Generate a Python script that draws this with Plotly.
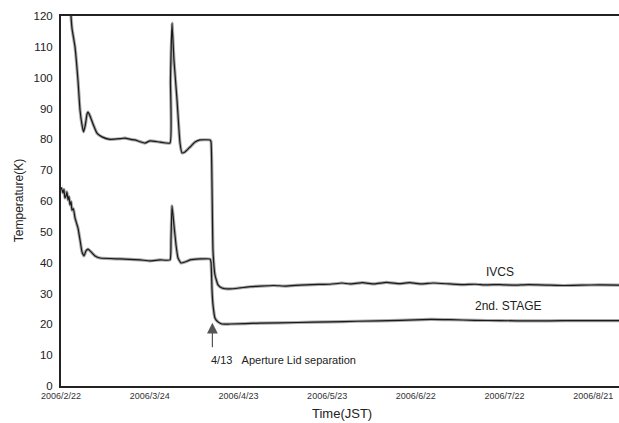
import pandas as pd
import plotly.graph_objects as go

START = "2006-02-22"

# IVCS: days since 2006-02-22 and temperature (K)
ivcs_days = [2.5, 3.38, 3.72, 4.73, 5.75, 6.43, 7.1, 7.61, 8.2, 8.8, 9.13, 9.81, 10.82, 12.17,
             13.87, 16.57, 19.95, 21.64, 23.5, 25.03, 28.41, 30.1, 33.48, 36.86, 37.03, 37.54,
             38.2, 39.23, 40.24, 40.92, 41.93, 43.63, 45.32, 47.0, 50.39, 50.73, 51.07, 51.4,
             52.08, 53.1, 54.45, 57.15, 60.5, 64, 67.3, 72, 76, 80.8, 85, 91, 95, 97.7, 102,
             106, 110, 114.6, 118, 122, 126, 131.6, 136, 140, 144, 148.5, 153, 158, 165.4,
             170, 176, 182, 188.7]
ivcs_temp = [135, 120, 116, 110, 99, 89.5, 84.7, 82.4, 84.5, 88.2, 88.8, 87.6, 85, 82,
             80.8, 80.0, 80.2, 80.4, 80.0, 79.8, 78.8, 79.5, 79.1, 78.8, 99, 117.7,
             105.7, 92.8, 78.8, 75.6, 75.9, 77.5, 79.1, 79.8, 79.8, 79.3, 65, 44,
             36, 32.8, 31.8, 31.5, 31.8, 32.2, 32.4, 32.6, 32.4, 32.7, 32.9, 33.0, 33.4, 33.1, 33.5,
             33.1, 33.6, 33.2, 33.5, 33.1, 33.4, 33.1, 32.9, 33.0, 32.8, 32.9, 32.7, 32.9, 32.7,
             32.6, 32.7, 32.8, 32.7]

# 2nd STAGE
stage_days = [0, 0.4, 0.68, 1.0, 1.3, 1.69, 2.0, 2.37, 2.7, 3.04, 3.4, 3.72, 4.2, 4.73, 5.75,
              6.43, 7.1, 7.78, 8.45, 9.13, 10.15, 11.5, 13.19, 19.95, 26.72, 30.1, 33.5,
              36.86, 37.2, 37.54, 38.2, 38.9, 39.57, 40.58, 41.93, 43.63, 47.0, 50.39, 50.73,
              51.07, 51.4, 52.08, 53.1, 54.45, 57.15, 67.3, 80, 91, 100, 114.6, 125, 131.6,
              140, 148.5, 160, 170, 188.7]
stage_temp = [64.5, 63.5, 62.6, 63.8, 61.0, 61.6, 63.0, 60.3, 61.5, 58.7, 59.8, 57, 57.5, 54.5, 51.2,
              47.4, 43.5, 42.2, 43.8, 44.4, 43.5, 42.2, 41.5, 41.2, 40.9, 40.6, 40.9,
              40.9, 47.4, 58.4, 52.2, 45.7, 41.5, 39.9, 40.2, 40.9, 41.2, 41.2, 40.2,
              31.1, 26.3, 22, 20.8, 20.1, 20.1, 20.4, 20.6, 20.8, 21.0, 21.3, 21.6, 21.5,
              21.3, 21.2, 21.1, 21.2, 21.2]

x_tick_days = [0, 30, 60, 90, 120, 150, 180]
x_tick_text = ["2006/2/22", "2006/3/24", "2006/4/23", "2006/5/23", "2006/6/22", "2006/7/22", "2006/8/21"]
y_ticks = list(range(0, 121, 10))

start = pd.Timestamp(START)
def to_date(days):
    return [start + pd.to_timedelta(d, unit="D") for d in days]

FONT = "Arial, Liberation Sans, sans-serif"

fig = go.Figure()
for days, temps in [(ivcs_days, ivcs_temp), (stage_days, stage_temp)]:
    xs = to_date(days)
    fig.add_trace(go.Scatter(x=xs, y=temps, mode="lines", line_shape="spline",
                             line=dict(color="#a8a8a8", width=3.2, smoothing=0.4),
                             showlegend=False, hoverinfo="skip"))
    fig.add_trace(go.Scatter(x=xs, y=temps, mode="lines", line_shape="spline",
                             line=dict(color="#1a1a1a", width=1.2, smoothing=0.4),
                             showlegend=False))

fig.update_layout(
    width=619, height=423,
    margin=dict(l=61, r=0, t=16, b=37),
    paper_bgcolor="white", plot_bgcolor="white",
    font=dict(family=FONT, color="#222"),
    xaxis=dict(type="date",
               range=[start, start + pd.to_timedelta(188.7, unit="D")],
               tickvals=to_date(x_tick_days), ticktext=x_tick_text,
               tickfont=dict(size=9, color="#333"),
               showgrid=False, zeroline=False, showline=True, linecolor="#222",
               linewidth=2, mirror=True, ticks=""),
    yaxis=dict(range=[0, 120], tickvals=y_ticks,
               tickfont=dict(size=11.5, color="#222"),
               showgrid=False, zeroline=False, showline=True, linecolor="#222",
               linewidth=2, ticks="outside", ticklen=4, tickcolor="white"),
)

annotations = [
    dict(text="Time(JST)", xref="paper", yref="paper", x=0.504, y=-0.073,
         showarrow=False, font=dict(size=13), xanchor="center", yanchor="middle"),
    dict(text="Temperature(K)", xref="paper", yref="paper", x=-0.075, y=0.5,
         showarrow=False, font=dict(size=12), textangle=-90, xanchor="center", yanchor="middle"),
    dict(text="IVCS", x=start + pd.to_timedelta(148.5, unit="D"), y=37.0,
         showarrow=False, font=dict(size=12), xanchor="center", yanchor="middle"),
    dict(text="2nd. STAGE", x=start + pd.to_timedelta(151.2, unit="D"), y=25.9,
         showarrow=False, font=dict(size=12), xanchor="center", yanchor="middle"),
    dict(text="4/13&nbsp;&nbsp;&nbsp;Aperture Lid separation", x=start + pd.to_timedelta(75.4, unit="D"), y=8.4,
         showarrow=False, font=dict(size=11), xanchor="center", yanchor="middle"),
    dict(text="", x=start + pd.to_timedelta(51.2, unit="D"), y=20.5,
         showarrow=True, arrowhead=2, arrowsize=1.8, arrowwidth=1.2, arrowcolor="#555",
         ax=0, ay=26),
]
fig.update_layout(annotations=annotations)

fig.write_html("out.html")
